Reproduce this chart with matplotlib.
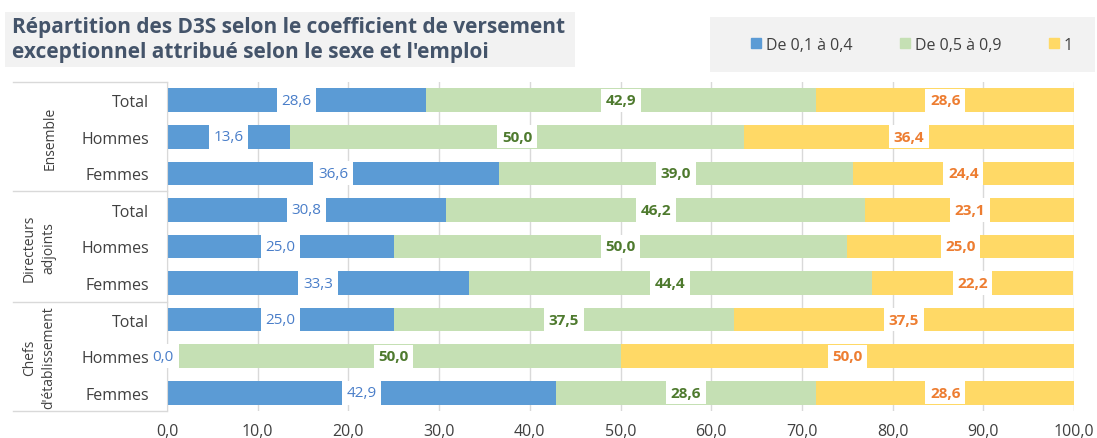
import matplotlib
matplotlib.use("Agg")
import matplotlib.pyplot as plt
from matplotlib.patches import Rectangle, Patch

plt.rcParams['font.family'] = ['Open Sans', 'DejaVu Sans']

rows = ["Total", "Hommes", "Femmes", "Total", "Hommes", "Femmes", "Total", "Hommes", "Femmes"]
groups = ["Ensemble", "Directeurs\nadjoints", "Chefs\nd'établissement"]
s1 = [28.6, 13.6, 36.6, 30.8, 25.0, 33.3, 25.0, 0.0, 42.9]
s2 = [42.9, 50.0, 39.0, 46.2, 50.0, 44.4, 37.5, 50.0, 28.6]
s3 = [28.6, 36.4, 24.4, 23.1, 25.0, 22.2, 37.5, 50.0, 28.6]
series_names = ["De 0,1 à 0,4", "De 0,5 à 0,9", "1"]
xticks = [0, 10, 20, 30, 40, 50, 60, 70, 80, 90, 100]

colors = ["#5B9BD5", "#C5E0B4", "#FFD966"]
txtcol = ["#4A7EC9", "#4E7A2E", "#ED7D31"]
weights = ["normal", "bold", "bold"]

fig = plt.figure(figsize=(10.97, 4.39), dpi=100)
ax = fig.add_axes([167/1097, 1-412/439, (1074-167)/1097, (412-83)/439])

y = list(range(len(rows)))
left = [0]*len(rows)
for k, vals in enumerate([s1, s2, s3]):
    ax.barh(y, vals, left=left, height=0.65, color=colors[k], zorder=2)
    for i, v in enumerate(vals):
        cx = left[i] + v/2
        if v == 0:
            cx = -0.4
        ax.text(cx, i, f"{v:.1f}".replace(".", ","), ha="center", va="center",
                fontsize=11, color=txtcol[k], fontweight=weights[k], zorder=4,
                bbox=dict(boxstyle="square,pad=0.3", fc="white", ec="none"),
                clip_on=False)
    left = [a+b for a, b in zip(left, vals)]

ax.set_xlim(0, 100)
ax.set_ylim(8.5, -0.5)
ax.set_yticks(y)
ax.set_yticklabels(rows, fontsize=11.5, color="#404040")
ax.set_xticks(xticks)
ax.set_xticklabels([f"{t:.1f}".replace(".", ",") for t in xticks], fontsize=11.5, color="#404040")
ax.tick_params(axis="both", length=0)
ax.tick_params(axis="x", pad=9)
ax.tick_params(axis="y", pad=13)
ax.grid(axis="x", color="#D9D9D9", linewidth=1, zorder=0)
for sp in ["top", "right", "bottom"]:
    ax.spines[sp].set_visible(False)
ax.spines["left"].set_color("#D9D9D9")
ax.spines["left"].set_zorder(3)

# group separators
for yy in [83, 192, 303, 412]:
    fig.add_artist(plt.Line2D([13/1097, 167/1097], [1-yy/439, 1-yy/439], color="#D9D9D9", lw=1))
gx = [50, 39, 39]
gy = [138, 248, 358]
for g, xx, yy in zip(groups, gx, gy):
    fig.text(xx/1097, 1-yy/439, g, rotation=90, ha="center", va="center",
             fontsize=10, color="#404040", linespacing=1.35)

# title box
fig.add_artist(Rectangle((5/1097, 1-68/439), 570/1097, 55/439, transform=fig.transFigure,
                         facecolor="#F2F2F2", edgecolor="none", zorder=0))
fig.text(12/1097, 1-40/439, "Répartition des D3S selon le coefficient de versement\nexceptionnel attribué selon le sexe et l'emploi",
         ha="left", va="center", fontsize=15, fontweight="bold", color="#44546A", linespacing=1.2)

# legend box
fig.add_artist(Rectangle((710/1097, 1-73/439), 385/1097, 55/439, transform=fig.transFigure,
                         facecolor="#F2F2F2", edgecolor="none", zorder=0))
handles = [Patch(color=c) for c in colors]
fig.legend(handles, series_names, loc="center", bbox_to_anchor=(912/1097, 1-46/439),
           ncol=3, frameon=False, fontsize=11.5, handlelength=0.6, handleheight=0.6,
           columnspacing=3.0, handletextpad=0.3, labelcolor="#404040")

fig.savefig("out.png", dpi=100)
